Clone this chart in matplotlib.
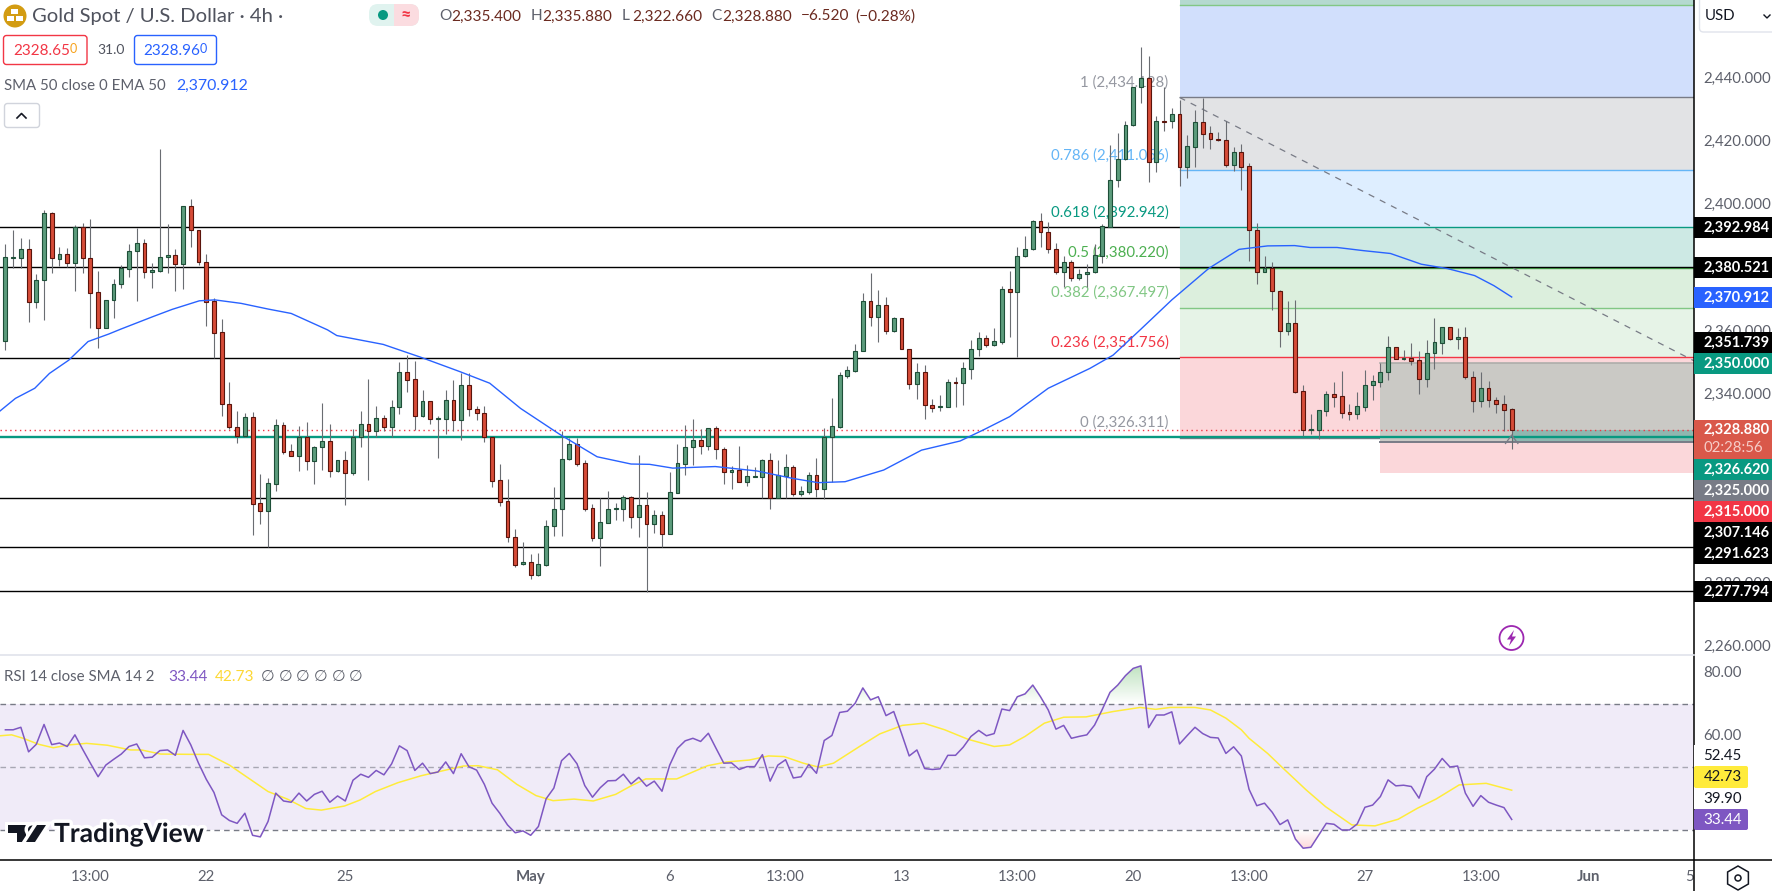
import matplotlib
matplotlib.use("Agg")
import matplotlib.pyplot as plt
from matplotlib.patches import Rectangle, Circle, FancyBboxPatch, Polygon, RegularPolygon, PathPatch
from matplotlib.colors import LinearSegmentedColormap
from matplotlib.path import Path
from matplotlib.transforms import ScaledTranslation
import matplotlib.patheffects as pe
import numpy as np

plt.rcParams['font.family'] = ['Lato', 'DejaVu Sans']

W, H = 1772, 891

# 4h candles
opens = [2357.1,2383.3,2383.4,2386.0,2369.4,2376.2,2397.4,2383.1,2384.4,2381.8,
         2393.0,2383.2,2372.4,2361.0,2369.9,2374.9,2379.9,2385.4,2387.9,2378.9,
         2379.3,2383.5,2384.1,2381.5,2399.6,2392.0,2382.1,2369.5,2359.7,2336.9,
         2329.8,2327.0,2332.8,2305.5,2303.2,2311.8,2330.3,2322.0,2320.6,2326.7,
         2319.1,2323.3,2325.2,2315.9,2319.2,2315.3,2326.7,2330.6,2328.6,2332.5,
         2329.8,2336.0,2347.0,2344.8,2333.3,2337.9,2332.2,2332.4,2338.2,2331.8,
         2342.9,2335.3,2334.1,2326.5,2312.8,2306.2,2294.8,2286.2,2286.9,2282.9,
         2286.1,2298.3,2303.6,2319.5,2324.2,2318.2,2304.0,2294.5,2299.4,2303.7,
         2303.9,2307.4,2301.3,2304.9,2299.1,2301.7,2295.9,2308.9,2318.1,2323.3,
         2325.5,2323.8,2329.3,2322.7,2315.6,2316.0,2312.4,2314.0,2314.0,2319.2,
         2307.1,2314.3,2317.0,2308.6,2309.2,2314.4,2310.2,2326.7,2329.8,2346.0,
         2347.6,2353.9,2369.5,2364.7,2368.3,2360.2,2364.2,2354.3,2343.2,2347.0,
         2336.6,2336.0,2336.2,2344.0,2343.8,2348.2,2354.3,2357.8,2355.7,2356.8,
         2373.3,2372.6,2383.8,2386.0,2394.9,2391.4,2386.0,2378.9,2381.9,2376.8,
         2378.1,2378.7,2383.9,2393.2,2407.9,2414.5,2425.3,2437.3,2440.2,2413.8,
         2426.7,2426.6,2428.8,2412.2,2418.5,2426.2,2422.8,2420.9,2420.5,2412.8,
         2416.7,2412.3,2392.0,2378.9,2380.2,2372.7,2360.2,2362.6,2341.0,2328.7,
         2328.8,2334.9,2340.1,2339.4,2334.4,2334.0,2336.2,2342.9,2344.1,2347.0,
         2355.0,2351.2,2351.7,2350.8,2344.8,2353.1,2356.4,2361.3,2357.7,2358.1,
         2345.5,2337.9,2342.0,2338.2,2336.9,2335.4]
closes = [2383.5,2383.5,2386.0,2369.4,2376.2,2397.4,2383.2,2384.4,2381.8,2393.0,
          2383.2,2372.3,2361.0,2369.9,2374.9,2380.1,2385.4,2387.9,2378.9,2379.4,
          2383.5,2384.1,2381.5,2399.6,2392.0,2382.1,2369.4,2359.6,2336.9,2329.8,
          2327.0,2332.8,2305.4,2303.2,2311.9,2330.3,2321.9,2320.6,2326.7,2319.1,
          2323.3,2325.2,2315.9,2319.2,2315.3,2326.7,2330.6,2328.6,2332.5,2329.8,
          2336.0,2347.0,2344.7,2333.3,2337.9,2332.2,2332.5,2338.2,2331.8,2342.9,
          2335.3,2334.1,2326.5,2312.7,2306.1,2294.8,2286.1,2286.9,2283.0,2286.2,
          2298.3,2303.6,2319.5,2324.2,2318.1,2303.9,2294.5,2299.5,2303.6,2304.0,
          2307.4,2301.3,2304.9,2299.1,2301.7,2295.9,2309.0,2318.2,2323.3,2325.5,
          2323.8,2329.3,2322.7,2315.6,2316.0,2312.4,2314.1,2314.2,2319.2,2307.1,
          2314.4,2317.0,2308.6,2309.3,2314.4,2310.2,2326.7,2329.9,2346.1,2347.7,
          2353.9,2369.5,2364.7,2368.3,2360.2,2364.2,2354.3,2343.2,2347.0,2336.6,
          2335.9,2336.3,2343.9,2343.8,2348.3,2354.3,2357.8,2355.8,2356.9,2373.4,
          2372.6,2383.8,2386.0,2394.9,2391.4,2386.0,2378.9,2381.9,2376.8,2378.1,
          2378.7,2384.1,2393.3,2407.9,2414.5,2425.3,2437.3,2440.2,2413.8,2426.6,
          2426.5,2428.8,2412.2,2418.6,2426.2,2422.7,2420.9,2420.5,2412.8,2416.7,
          2412.2,2392.0,2378.9,2380.2,2372.7,2360.2,2362.6,2340.9,2328.7,2329.0,
          2335.0,2340.1,2339.3,2334.3,2334.0,2336.3,2342.9,2344.2,2347.0,2355.0,
          2351.2,2351.7,2350.7,2344.8,2353.1,2356.5,2361.3,2357.7,2358.2,2345.5,
          2337.9,2342.0,2338.2,2336.9,2335.2,2328.88]
highs = [2387.7,2392.1,2389.5,2389.2,2378.2,2398.5,2397.8,2386.9,2386.3,2393.7,
         2394.2,2395.5,2379.0,2369.9,2376.5,2381.0,2387.7,2392.8,2389.3,2381.6,
         2417.7,2394.0,2386.0,2399.6,2401.9,2392.0,2384.5,2370.5,2363.9,2344.0,
         2334.8,2334.1,2334.5,2314.8,2313.5,2332.3,2331.2,2324.3,2330.0,2331.3,
         2323.7,2337.3,2330.7,2319.4,2322.1,2329.1,2334.8,2344.8,2336.4,2333.5,
         2338.3,2350.2,2352.5,2350.6,2341.4,2337.9,2333.2,2341.4,2344.6,2346.7,
         2346.7,2336.4,2336.4,2326.7,2317.9,2313.3,2297.3,2293.3,2289.5,2289.7,
         2300.3,2310.6,2328.5,2326.1,2326.1,2319.3,2305.3,2307.1,2309.4,2305.8,
         2308.2,2308.0,2320.9,2309.0,2303.3,2303.1,2315.4,2324.3,2330.4,2332.3,
         2329.1,2329.3,2330.0,2323.3,2317.4,2323.7,2317.7,2317.1,2319.5,2321.4,
         2319.3,2321.2,2317.7,2311.1,2315.4,2319.8,2329.3,2338.8,2347.0,2349.1,
         2356.0,2372.1,2378.4,2373.1,2370.8,2364.5,2364.2,2354.3,2350.1,2349.4,
         2338.6,2339.9,2344.9,2345.7,2350.2,2357.3,2359.7,2358.9,2361.0,2374.4,
         2379.3,2386.6,2390.2,2395.3,2397.4,2394.8,2387.9,2383.9,2382.6,2379.7,
         2381.3,2387.7,2394.0,2419.1,2422.8,2426.7,2437.5,2450.0,2447.3,2428.3,
         2437.3,2430.7,2433.3,2422.2,2430.2,2433.8,2425.1,2423.2,2426.6,2418.4,
         2419.4,2413.3,2394.2,2383.9,2381.9,2373.1,2369.6,2370.0,2343.0,2333.8,
         2335.0,2341.1,2344.0,2347.5,2337.0,2340.8,2347.7,2346.2,2350.0,2358.6,
         2355.0,2354.1,2356.2,2353.8,2357.3,2364.2,2361.3,2361.3,2361.0,2361.3,
         2347.5,2347.2,2344.3,2339.1,2339.9,2335.88]
lows = [2354.1,2380.0,2380.0,2363.1,2367.5,2363.6,2378.6,2380.7,2380.3,2372.9,
        2378.6,2361.0,2354.9,2361.0,2364.2,2373.7,2377.4,2369.7,2377.0,2373.9,
        2378.9,2378.4,2372.9,2373.3,2386.9,2381.0,2361.7,2351.7,2333.2,2329.2,
        2324.8,2326.7,2295.6,2299.0,2291.6,2309.5,2321.2,2320.6,2315.8,2316.1,
        2311.7,2316.1,2313.9,2315.6,2305.0,2314.5,2323.5,2312.9,2326.5,2328.6,
        2326.5,2333.8,2340.8,2328.8,2333.0,2330.7,2320.0,2327.5,2328.5,2325.6,
        2333.2,2331.9,2325.1,2310.8,2304.7,2293.3,2285.5,2286.0,2281.7,2282.6,
        2285.7,2295.2,2295.2,2319.3,2317.5,2303.2,2293.7,2285.8,2299.2,2300.3,
        2300.1,2297.8,2295.0,2277.6,2296.0,2291.6,2295.9,2308.9,2314.5,2317.7,
        2321.2,2322.4,2319.6,2311.7,2310.2,2312.4,2311.0,2314.0,2307.1,2303.7,
        2307.1,2307.1,2308.0,2308.0,2308.4,2307.6,2306.8,2312.2,2329.5,2345.4,
        2347.3,2353.9,2361.7,2356.8,2359.1,2359.9,2354.3,2341.8,2338.6,2332.3,
        2334.6,2334.9,2336.2,2336.2,2336.7,2344.9,2352.2,2355.2,2355.3,2355.9,
        2358.3,2351.8,2383.5,2385.8,2386.9,2385.0,2378.1,2374.0,2376.1,2376.3,
        2374.2,2378.4,2381.8,2393.0,2405.9,2414.3,2425.1,2432.3,2407.4,2410.6,
        2423.6,2424.6,2406.2,2408.7,2412.2,2418.2,2417.7,2420.4,2412.2,2410.9,
        2404.8,2382.4,2375.0,2378.9,2366.8,2355.2,2358.9,2340.4,2326.9,2327.5,
        2325.8,2333.3,2336.0,2332.7,2332.1,2332.4,2334.9,2338.3,2342.5,2344.6,
        2351.2,2351.0,2349.4,2340.3,2342.5,2348.1,2353.0,2357.3,2354.5,2344.9,
        2334.5,2336.2,2336.2,2334.3,2328.6,2322.66]

# EMA 50, vertices
ema_k = [-0.7,1.3,3.8,5.7,8.2,10.7,13.4,14.9,19.1,21.6,25.1,27.1,30.5,34,37,41.7,42.9,48.9,53.8,58.8,
         62.7,66.7,71.7,76.6,81,83.4,86.4,91.9,97.3,101.8,105.2,108.7,113.7,118.6,123.6,126.6,130,135,
         140.4,143.4,146.9,151,155.8,159.7,163.4,166.9,168.9,172.4,175.8,179.3,183.3,186.7,190.2,192.7,195]
ema_val = [2334.8,2338.8,2342.0,2346.7,2350.9,2356.8,2359.2,2360.7,2364.7,2367.0,2369.7,2370.0,2368.9,2367.1,
           2365.7,2360.5,2358.7,2355.9,2351.8,2347.3,2343.6,2335.6,2327.5,2320.3,2318.0,2317.9,2316.7,2317.2,
           2315.8,2313.5,2312.1,2312.4,2316.1,2322.4,2325.3,2328.8,2333.0,2342.0,2348.3,2352.5,2360.5,2370.0,
           2380.0,2386.0,2387.1,2387.2,2386.6,2386.6,2385.6,2384.7,2381.3,2379.9,2377.7,2374.5,2370.912]

rsi = [61.9,61.9,62.7,54.9,57.3,63.6,57.2,57.7,56.6,60.3,
       55.7,51.3,47.0,50.7,52.5,54.2,56.6,57.4,53.0,53.2,
       55.3,55.5,53.8,61.7,57.1,51.3,46.2,42.0,34.9,33.1,
       32.2,35.4,28.4,27.9,32.8,41.8,39.3,38.9,41.8,39.3,
       41.4,42.4,38.9,40.9,39.3,45.9,47.8,46.8,49.0,47.6,
       51.1,56.8,55.3,49.0,51.3,48.0,48.5,51.7,48.0,54.3,
       50.2,49.1,44.6,38.6,35.4,31.7,29.2,29.8,28.4,31.2,
       40.0,43.4,52.1,54.4,51.1,44.2,40.5,43.5,45.7,45.8,
       47.8,44.7,46.8,44.0,45.6,42.4,50.7,56.0,58.4,59.2,
       58.2,60.8,56.0,51.3,51.4,49.3,50.2,50.2,54.0,45.6,
       50.7,52.4,46.6,47.0,50.9,48.1,58.5,60.1,67.4,67.8,
       70.3,75.2,71.4,72.4,66.4,67.7,60.8,53.6,55.5,49.6,
       49.3,49.5,53.8,53.8,56.4,59.8,61.7,60.0,60.7,68.5,
       68.0,72.4,73.3,76.1,72.4,68.2,62.1,63.3,59.2,59.8,
       60.3,63.4,68.4,73.8,76.1,79.1,81.4,82.2,62.6,66.6,
       66.6,67.6,57.4,60.1,62.7,60.7,59.5,59.3,54.4,56.5,
       53.6,43.0,37.8,38.6,35.7,31.8,33.3,27.2,24.3,24.6,
       28.4,32.2,31.9,30.1,30.1,32.0,37.3,38.0,40.7,46.0,
       44.1,44.3,43.9,40.2,47.0,49.4,52.8,50.1,50.4,41.8,
       37.6,41.0,38.9,38.0,37.2,33.44]

# RSI moving average, vertices
rsi_ma_k = [-0.7,0.8,2.3,4.3,6.2,8.2,10.5,13.2,16.2,17.6,20.1,24.1,26.3,29,31.5,34,36.5,38.9,40.9,43.9,
            45.9,47.9,50.8,53.8,56.8,59.3,61.2,63.7,66.2,68.7,70.9,73.6,76.1,79,81,82.9,86.9,90.9,93.4,
            96.3,98.8,100.8,103.3,105.2,107.2,110.7,113.2,116.1,118.9,121.6,124.6,128,130,132,134.5,137,
            139.9,143.4,146.9,148.9,150.8,154,156,158,160,161,163.4,165.4,168.4,170.9,174.3,177.3,180.3,
            182.8,185.2,188.2,191.7,195]
rsi_ma = [60.0,60.3,59.2,57.3,56.2,57.1,57.6,57.0,55.5,55.5,54.2,54.1,54.1,50.7,46.5,42.3,39.9,36.9,36.4,37.7,
          39.6,42.3,45.1,47.3,49.0,50.4,50.5,49.2,44.6,41.0,39.4,39.9,39.3,41.4,44.1,46.3,46.3,50.5,51.7,
          52.3,53.6,53.4,51.3,50.1,51.3,56.8,60.6,63.3,64.0,61.9,58.9,56.6,57.1,59.8,64.0,65.9,
          66.0,67.7,69.0,68.4,69.0,69.0,68.2,65.6,61.9,59.2,54.4,49.7,42.8,37.5,31.7,31.4,33.5,
          37.0,39.9,44.4,44.9,42.73]

price_ticks = [2260,2280,2340,2360,2400,2420,2440]
rsi_ticks = [60,80]
time_pos = [11,26,44,68,86,101,116,131,146,161,176,191,205,218]
time_labels = ['13:00','22','25','May','6','13:00','13','13:00','20','13:00','27','13:00','Jun','5']

support_levels = [2392.984,2351.739,2307.146,2291.623,2277.794]
mid_level = 2380.521
bid_level = 2326.62
last_price = 2328.88

fib_prices = [2326.311,2351.756,2367.497,2380.22,2392.942,2411.056,2434.128,2463.4]
fib_fills = ['#fbd7da','#e6f3e7','#dcefdd','#cde9e4','#deeeff','#e2e3e5','#d1dffc']
fib_lines = ['#787b86','#f23645','#81c784','#4caf50','#089981','#64b5f6','#787b86','#81c784']
fib_names = ['0 (2,326.311)','0.236 (2,351.756)','0.382 (2,367.497)','0.5 (2,380.220)',
             '0.618 (2,392.942)','0.786 (2,411.056)','1 (2,434.128)']
fib_name_colors = ['#9598a1','#f23645','#81c784','#4caf50','#089981','#64b5f6','#9598a1']

tag_labels = ['2,392.984','2,380.521','2,370.912','2,351.739','2,350.000','2,326.620',
              '2,325.000','2,315.000','2,307.146','2,291.623','2,277.794']
tag_colors = ['#000000','#000000','#2962ff','#000000','#089981','#089981',
              '#787b86','#f23645','#000000','#000000','#000000']
tag_tops = [217,257,287,332,353,459,480,501,522,543,581]

x_left, x_right = -0.7, 218.6
price_low, price_high = 2257.5, 2465.0
rsi_low, rsi_high = 20.56, 85.65

fig = plt.figure(figsize=(W / 100, H / 100), dpi=100, facecolor='white')
ax = fig.add_axes([0, 1 - 655 / H, 1694 / W, 655 / H])
ax_rsi = fig.add_axes([0, 1 - 860 / H, 1694 / W, 205 / H])
over = fig.add_axes([0, 0, 1, 1], zorder=10)
over.set_xlim(0, W)
over.set_ylim(H, 0)
over.axis('off')
over.patch.set_alpha(0)

TICK_PT = 10.8
for a in (ax, ax_rsi):
    a.set_xlim(x_left, x_right)
    for s in a.spines.values():
        s.set_visible(False)
    a.yaxis.tick_right()
    a.tick_params(axis='both', length=0, labelsize=TICK_PT, labelcolor='#5d606b')
    a.tick_params(axis='y', pad=6.5)

# price pane
ax.set_ylim(price_low, price_high)
ax.set_xticks([])
ax.set_yticks(price_ticks)
ax.set_yticklabels(['{:,.3f}'.format(p) for p in price_ticks])

for lv in support_levels:
    ax.axhline(lv, color='black', lw=1.0, zorder=1)

# fib retracement block
fib_start = 152
for i in range(len(fib_fills)):
    ax.fill_between([fib_start, x_right], fib_prices[i], fib_prices[i + 1], color=fib_fills[i], lw=0, zorder=1.5)
ax.fill_between([fib_start, x_right], fib_prices[-1], price_high, color='#b4d9cf', lw=0, zorder=1.5)
for lv, c in zip(fib_prices, fib_lines):
    ax.plot([fib_start, x_right], [lv, lv], color=c, lw=1.0, zorder=1.6)
for lv, name, c in zip(fib_prices, fib_names, fib_name_colors):
    ax.annotate(name, xy=(fib_start, lv), xytext=(-8, 10.8), textcoords='offset points',
                ha='right', va='center', color=c, fontsize=TICK_PT, zorder=1.7)

# position tool
pos_start = 178
pos_target, pos_entry, pos_stop = 2350.0, 2325.0, 2315.0
ax.fill_between([pos_start, x_right], pos_entry, pos_target, color='#cac9c5', lw=0, zorder=1.8)
ax.fill_between([pos_start, x_right], pos_stop, pos_entry, color='#fbd7da', lw=0, zorder=1.8)
ax.fill_between([195, x_right], pos_entry, last_price, color='#8fb7b0', lw=0, zorder=1.85)
ax.plot([pos_start, x_right], [pos_target, pos_target], color='#aeadaa', lw=1.2, zorder=1.9)
ax.plot([pos_start, x_right], [pos_entry, pos_entry], color='#787b86', lw=1.4, zorder=1.9)

ax.axhline(mid_level, color='black', lw=1.0, zorder=2)
ax.axhline(bid_level, color='#089981', lw=1.7, zorder=2)
ax.plot([x_left, x_right], [last_price, last_price], color='#f23645', lw=1.0, ls=(0, (1, 2.5)), zorder=2)
ax.plot([152, x_right], [2434.128, 2350.7], color='#787b86', lw=0.9, ls=(0, (5, 5)), zorder=2)

# candles
k = np.arange(len(opens))
opens_a, closes_a = np.array(opens), np.array(closes)
up = closes_a >= opens_a
ax.vlines(k, lows, highs, color='#6a6d72', lw=0.8, zorder=3)
ax.bar(k[up], (closes_a - opens_a)[up], bottom=opens_a[up], width=0.5, color='#5c9c7c',
       edgecolor='#1e4f38', lw=0.8, zorder=4)
ax.bar(k[~up], (opens_a - closes_a)[~up], bottom=closes_a[~up], width=0.5, color='#d64c38',
       edgecolor='#5a140c', lw=0.8, zorder=4)
ax.plot(ema_k, ema_val, color='#2962ff', lw=1.0, zorder=5)

# small up arrow of the last bar
ax.plot([194.2, 195, 195.8], [2324.5, 2327.2, 2324.5], color='#787b86', lw=0.9, zorder=5)

# RSI pane
ax_rsi.set_ylim(rsi_low, rsi_high)
ax_rsi.set_xticks(time_pos)
ax_rsi.set_xticklabels(time_labels)
ax_rsi.tick_params(axis='x', pad=7.5)
for lab in ax_rsi.get_xticklabels():
    if lab.get_text() in ('May', 'Jun'):
        lab.set_fontweight('bold')
ax_rsi.set_yticks(rsi_ticks)
ax_rsi.set_yticklabels(['{:.2f}'.format(v) for v in rsi_ticks])
ax_rsi.axhspan(30, 70, color='#7e57c2', alpha=0.115, lw=0, zorder=1)
ax_rsi.axhline(70, color='#787b86', lw=1.0, ls=(0, (4, 3)), zorder=2)
ax_rsi.axhline(50, color='#787b86', lw=1.0, ls=(0, (4, 3)), alpha=0.6, zorder=2)
ax_rsi.axhline(30, color='#787b86', lw=1.0, ls=(0, (4, 3)), zorder=2)

# overbought / oversold gradients, clipped by the RSI curve
rsi_a = np.array(rsi)
over_fill = ax_rsi.fill_between(k, 70, rsi_a, where=rsi_a > 70, interpolate=True, color='none', lw=0)
under_fill = ax_rsi.fill_between(k, 30, rsi_a, where=rsi_a < 30, interpolate=True, color='none', lw=0)
green_fade = LinearSegmentedColormap.from_list('gf', [(0.3, 0.69, 0.31, 0.38), (0.3, 0.69, 0.31, 0.0)])
red_fade = LinearSegmentedColormap.from_list('rf', [(0.95, 0.21, 0.27, 0.0), (0.95, 0.21, 0.27, 0.2)])
grad = np.linspace(0, 1, 64).reshape(-1, 1)
for coll, cmap, ext in [(over_fill, green_fade, (x_left, x_right, 70, 83)),
                        (under_fill, red_fade, (x_left, x_right, 24, 30))]:
    im = ax_rsi.imshow(grad, cmap=cmap, extent=ext, origin='upper', aspect='auto', zorder=2.5)
    clip = PathPatch(Path.make_compound_path(*coll.get_paths()), transform=ax_rsi.transData, fc='none', ec='none')
    ax_rsi.add_patch(clip)
    im.set_clip_path(clip)
ax_rsi.set_xlim(x_left, x_right)
ax_rsi.set_ylim(rsi_low, rsi_high)
ax_rsi.plot(rsi_ma_k, rsi_ma, color='#ffeb3b', lw=1.1, zorder=3)
ax_rsi.plot(k, rsi, color='#7e57c2', lw=1.1, zorder=4)

# scale labels sit a little above their levels
lift = ScaledTranslation(0, 1.5 / 100, fig.dpi_scale_trans)
for a in (ax, ax_rsi):
    for lab in a.get_yticklabels():
        lab.set_transform(lab.get_transform() + lift)

# chrome, in pixels of the overlay
over.plot([1694, 1694], [0, H], color='black', lw=1.1, zorder=1)
over.plot([0, W], [860, 860], color='black', lw=1.1, zorder=1)
over.plot([0, 1694], [655, 655], color='#e0e3eb', lw=1.2, zorder=1)

TAG_X = 1703.5
TAG_PT = 10.5


def tag(top, label, bg, height=21, fg='white', width=78):
    over.add_patch(Rectangle((1694, top), width, height, color=bg, lw=0, zorder=2))
    over.text(TAG_X, top + height / 2, label, color=fg, fontsize=TAG_PT, fontweight='bold',
              ha='left', va='center', zorder=3)


for top, label, c in zip(tag_tops, tag_labels, tag_colors):
    tag(top, label, c)

over.add_patch(Rectangle((1694, 420), 78, 39, color='#d9584a', lw=0, zorder=2))
over.text(TAG_X, 430, '2,328.880', color='white', fontsize=TAG_PT, fontweight='bold', va='center', zorder=3)
over.text(TAG_X, 448, '02:28:56', color='#f6cdc8', fontsize=TICK_PT, va='center', zorder=3)

# RSI scale tags
over.add_patch(Rectangle((1694, 745), 54, 64, color='white', lw=0, zorder=2))
over.text(TAG_X, 755.7, '52.45', color='#131722', fontsize=TICK_PT, va='center', zorder=3)
over.text(TAG_X, 798.7, '39.90', color='#131722', fontsize=TICK_PT, va='center', zorder=3)
over.add_patch(FancyBboxPatch((1694, 766), 54, 22, boxstyle='round,pad=0,rounding_size=2', color='#ffeb3b', lw=0, zorder=3))
over.text(TAG_X, 777, '42.73', color='#131722', fontsize=TICK_PT, va='center', zorder=4)
over.add_patch(FancyBboxPatch((1694, 809), 54, 21, boxstyle='round,pad=0,rounding_size=2', color='#7e57c2', lw=0, zorder=3))
over.text(TAG_X, 819.5, '33.44', color='white', fontsize=TICK_PT, va='center', zorder=4)

# USD button
over.add_patch(FancyBboxPatch((1699.5, -4), 80, 36, boxstyle='round,pad=0,rounding_size=4', fc='white', ec='#e0e3eb', lw=1))
over.text(TAG_X + 1, 16.5, 'USD', color='#131722', fontsize=TICK_PT, va='center')
over.plot([1764, 1767, 1770], [15, 18, 15], color='#131722', lw=1)

# settings hexagon
over.add_patch(RegularPolygon((1738, 878), 6, radius=12, fc='none', ec='#131722', lw=1.1))
over.add_patch(Circle((1738, 878), 3, fc='none', ec='#131722', lw=1.1))

# header
over.add_patch(Circle((15, 16), 11.5, color='#d39c12', lw=0))
for bx, by in [(15, 11), (10.5, 18.5), (19.5, 18.5)]:
    over.add_patch(Rectangle((bx - 3.5, by - 2.5), 7, 5, color='white', lw=0))
over.text(32, 16.5, 'Gold Spot / U.S. Dollar · 4h ·', color='#50535e', fontsize=14.6, va='center')

over.add_patch(FancyBboxPatch((369, 4), 50, 22, boxstyle='round,pad=0,rounding_size=9', color='#e0f3ef', lw=0))
over.add_patch(FancyBboxPatch((394, 4), 25, 22, boxstyle='round,pad=0,rounding_size=9', color='#fbdce0', lw=0))
over.add_patch(Rectangle((394, 4), 10, 22, color='#fbdce0', lw=0))
over.add_patch(Circle((383, 15), 5, color='#089981', lw=0))
over.text(406, 15, '≈', color='#f23645', fontsize=13, ha='center', va='center', fontweight='bold')

ohlc_keys = [('O', 439), ('H', 531), ('L', 622), ('C', 711)]
ohlc_vals = [('2,335.400', 451.5), ('2,335.880', 542), ('2,322.660', 632), ('2,328.880', 722),
             ('−6.520', 801), ('(−0.28%)', 855)]
for s, x0 in ohlc_keys:
    over.text(x0, 16.5, s, color='#5d606b', fontsize=TICK_PT + 0.3, va='center')
for s, x0 in ohlc_vals:
    over.text(x0, 16.5, s, color='#6b2a20', fontsize=TICK_PT + 0.3, va='center')

over.add_patch(FancyBboxPatch((3.5, 35.5), 83.5, 29, boxstyle='round,pad=0,rounding_size=3', fc='white', ec='#f23645', lw=1))
over.text(13, 51, '2328.65', color='#f23645', fontsize=11, va='center')
over.text(70, 49, '0', color='#f7a21b', fontsize=9, va='center')
over.text(97, 50.5, '31.0', color='#50535e', fontsize=10, va='center')
over.add_patch(FancyBboxPatch((134.5, 35.5), 82, 29, boxstyle='round,pad=0,rounding_size=3', fc='white', ec='#2962ff', lw=1))
over.text(143.5, 51, '2328.96', color='#2962ff', fontsize=11, va='center')
over.text(200, 49, '0', color='#2962ff', fontsize=9, va='center')

over.text(4, 86, 'SMA 50 close 0 EMA 50', color='#5d606b', fontsize=TICK_PT, va='center')
over.text(176, 86, '2,370.912', color='#2962ff', fontsize=TICK_PT + 0.6, va='center')

over.add_patch(FancyBboxPatch((4.5, 103.5), 35, 24, boxstyle='round,pad=0,rounding_size=3', fc='white', ec='#d1d4dc', lw=1))
over.plot([17, 21.5, 26], [118, 113.5, 118], color='#131722', lw=1.2)

# RSI legend
over.text(4, 677, 'RSI 14 close SMA 14 2', color='#5d606b', fontsize=TICK_PT, va='center')
over.text(168, 677, '33.44', color='#7e57c2', fontsize=TICK_PT + 0.3, va='center')
over.text(215, 677, '42.73', color='#fdd835', fontsize=TICK_PT + 0.3, va='center')
for i in range(6):
    over.text(268 + i * 17.6, 677, '∅', color='#5d606b', fontsize=TICK_PT + 0.5, ha='center', va='center')

# bolt marker
over.add_patch(Circle((1511.5, 638), 12, fc='white', ec='#9c27b0', lw=1.3))
over.add_patch(Polygon([(1514, 630), (1507, 639.5), (1511, 639.5), (1509, 646), (1516, 636.5), (1512, 636.5)],
                       color='#9c27b0', lw=0))

# TradingView mark
halo = [pe.withStroke(linewidth=5, foreground='white')]
over.add_patch(Polygon([(8, 825), (26, 825), (26, 842), (17, 842), (17, 833), (8, 833)], color='#131722', lw=0,
                       path_effects=halo))
over.add_patch(Circle((32, 829.5), 4, color='#131722', lw=0, path_effects=halo))
over.add_patch(Polygon([(37, 825), (46, 825), (35, 842), (26, 842)], color='#131722', lw=0, path_effects=halo))
over.text(54, 834, 'TradingView', color='#131722', fontsize=19, fontweight='bold', va='center', path_effects=halo)

fig.savefig('out.png', dpi=100)
